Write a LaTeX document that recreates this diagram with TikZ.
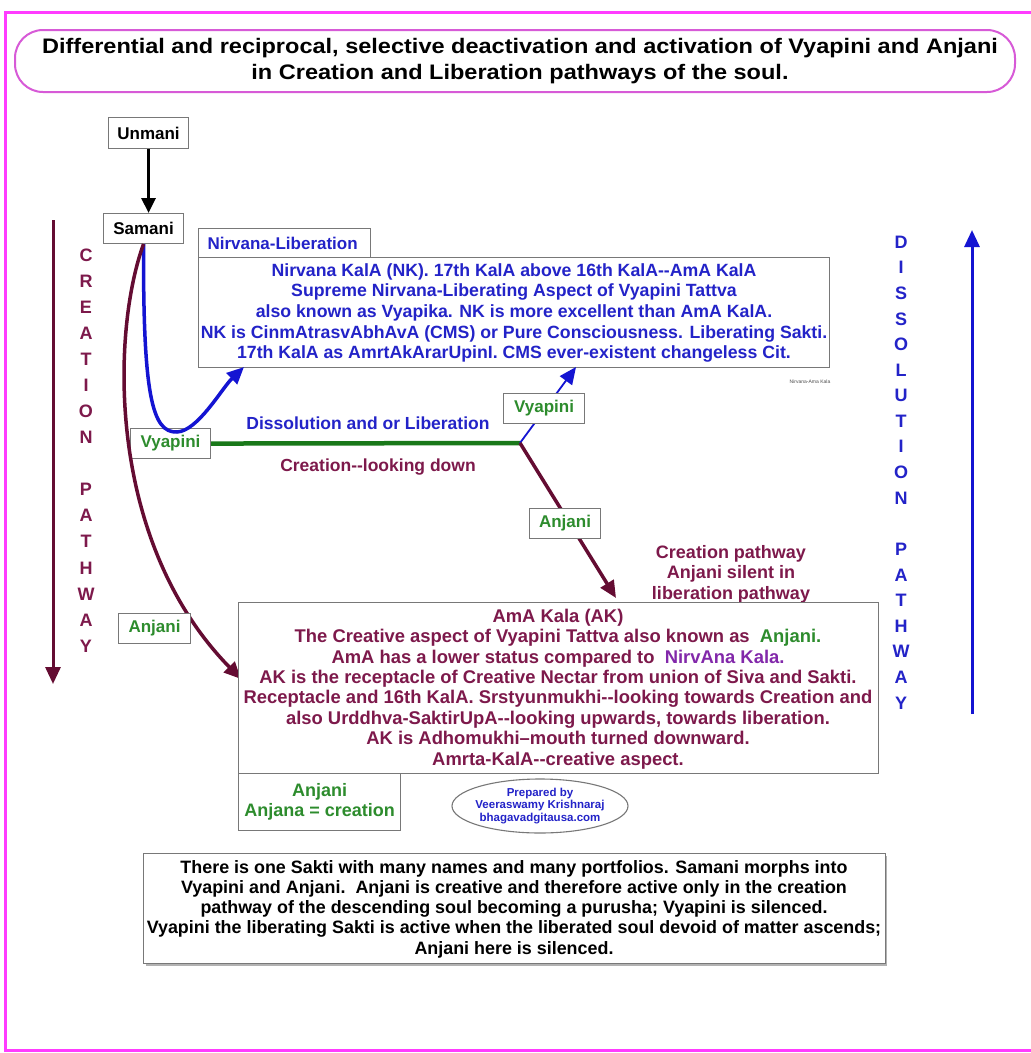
\documentclass[tikz,border=0pt]{standalone}
\usepackage{fontspec}
\setmainfont{Liberation Sans}
\newfontfamily\titlefont[FakeStretch=1.12]{Liberation Sans}
\usetikzlibrary{arrows.meta,shapes.geometric}
\definecolor{mag}{RGB}{255,60,255}
\definecolor{titlemag}{RGB}{215,90,215}
\definecolor{maroon}{RGB}{125,25,75}
\definecolor{maroonline}{RGB}{100,12,50}
\definecolor{grn}{RGB}{45,140,45}
\definecolor{grnline}{RGB}{25,120,25}
\definecolor{blu}{RGB}{35,35,200}
\definecolor{bluline}{RGB}{20,20,210}
\definecolor{purp}{RGB}{130,40,170}
\definecolor{boxgray}{RGB}{120,120,120}
\begin{document}
\begin{tikzpicture}[x=1pt,y=-1pt,
  box/.style={draw=boxgray, line width=1.1pt, fill=white, inner sep=0pt, anchor=north west},
  lbl/.style={font=\fontsize{17}{19}\selectfont\bfseries},
  vlet/.style={font=\fontsize{18}{20}\selectfont\bfseries, inner sep=0pt},
  bigtip/.style={-{Triangle[length=17pt,width=15pt]}},
]
\useasboundingbox (0,0) rectangle (1031,1053);
\clip (0,0) rectangle (1031,1053);
\fill[white] (0,0) rectangle (1031,1053);
\draw[mag, line width=3pt] (5,12) rectangle (1045,1050);

% title
\node[draw=titlemag, line width=2pt, rounded corners=28pt, minimum width=1000pt, minimum height=62pt, inner sep=0pt] (title) at (515,61) {};
\node[align=center, font=\titlefont\fontsize{21}{26}\selectfont\bfseries] (titlet) at (520,61)
  {Differential and reciprocal, selective deactivation and activation of Vyapini and Anjani\\
   in Creation and Liberation pathways of the soul.};

% Unmani / Samani
\node[box, minimum width=80pt, minimum height=31pt] (unmani) at (108,117) {};
\node[lbl] (unmanit) at (unmani.center) {Unmani};
\node[box, minimum width=80pt, minimum height=30pt] (samani) at (103,213) {};
\node[lbl] (samanit) at (samani.center) {Samani};
\draw[black, line width=3pt, -{Triangle[length=15pt,width=14pt]}] (unmani.south) -- (unmani.south |- samani.north);

% Nirvana boxes
\node[box, minimum width=172pt, minimum height=30pt] (nirvtab) at (198,228) {};
\node[lbl, text=blu, anchor=west] (nirvtabt) at (204,243) {Nirvana-Liberation};
\node[box, minimum width=631pt, minimum height=110pt] (nk) at (198,257) {};
\node[align=center, text=blu, font=\fontsize{17.7}{20.7}\selectfont\bfseries] (nkt) at (514,313)
  {Nirvana KalA (NK). 17th KalA above 16th KalA-{}-AmA KalA\\
   Supreme Nirvana-Liberating Aspect of Vyapini Tattva\\
   also known as Vyapika. NK is more excellent than AmA KalA.\\
   NK is CinmAtrasvAbhAvA (CMS) or Pure Consciousness. Liberating Sakti.\\
   17th KalA as AmrtAkArarUpinI. CMS ever-existent changeless Cit.};
\node[font=\fontsize{5}{6}\selectfont, text=black!70] (nasmall) at (810,382) {Nirvana-Ama Kala};

% vertical letters
\foreach \l [count=\i] in {C,R,E,A,T,I,O,N,,P,A,T,H,W,A,Y}
  \node[vlet, text=maroon] (cr\i) at (86,{255+(\i-1)*26.07}) {\l};
\foreach \l [count=\i] in {D,I,S,S,O,L,U,T,I,O,N,,P,A,T,H,W,A,Y}
  \node[vlet, text=blu] (ds\i) at (901,{242+(\i-1)*25.6}) {\l};

% side arrows
\coordinate (crtop) at (53,220);
\coordinate (crbot) at (53,684);
\draw[maroonline, line width=3pt, -{Triangle[length=17pt,width=15pt]}] (crtop) -- (crbot);
\coordinate (dsbot) at (972,714);
\coordinate (dstop) at (972,230);
\draw[bluline, line width=3pt, -{Triangle[length=17pt,width=15pt]}] (dsbot) -- (dstop);

% Vyapini left, green line
\node[box, minimum width=80pt, minimum height=30pt] (vyl) at (130,428) {};
\node[lbl, text=grn] (vylt) at (vyl.center) {Vyapini};
\coordinate (junc) at (520,443);
\draw[grnline, line width=4.5pt] (vyl.east) -- (junc);
\node[text=blu, font=\fontsize{17.5}{19}\selectfont\bfseries] (dissl) at (368,423) {Dissolution and or Liberation};
\node[text=maroon, font=\fontsize{17.5}{19}\selectfont\bfseries] (creatl) at (378,467) {Creation-{}-looking down};

% curves from Samani
\coordinate (nkin1) at (244,367);
\coordinate (akin) at (241,679);
\draw[bluline, line width=3.5pt, bigtip] (samani.south) .. controls (143,395) and (152,433) .. (177,432)
   .. controls (198,431) and (222,388) .. (nkin1);
\draw[maroonline, line width=3.5pt, bigtip] (samani.south) .. controls (112,330) and (105,540) .. (akin);

% junction lines
\coordinate (nkin2) at (576,367);
\coordinate (akin2) at (616,598);
\draw[bluline, line width=1.8pt, bigtip] (junc) -- (nkin2);
\draw[maroonline, line width=3.5pt, bigtip] (junc) -- (akin2);
\node[box, minimum width=81pt, minimum height=30pt] (vyr) at (503,393) {};
\node[lbl, text=grn] (vyrt) at (vyr.center) {Vyapini};
\node[box, minimum width=71pt, minimum height=30pt] (anjr) at (529,508) {};
\node[lbl, text=grn] (anjrt) at (anjr.center) {Anjani};

% creation pathway note
\node[align=center, text=maroon, font=\fontsize{18}{20.5}\selectfont\bfseries] (cpnote) at (731,574)
  {Creation pathway\\ Anjani silent in\\ liberation pathway};

% Anjani left
\node[box, minimum width=72pt, minimum height=30pt] (anjl) at (118,613) {};
\node[lbl, text=grn] (anjlt) at (anjl.center) {Anjani};

% AK box
\node[box, minimum width=640pt, minimum height=171pt] (ak) at (238,602) {};
\node[align=center, text=maroon, font=\fontsize{18.4}{20.43}\selectfont\bfseries] (akt) at (558,689)
  {AmA Kala (AK)\\
   The Creative aspect of Vyapini Tattva also known as\ \ \textcolor{grn}{Anjani.}\\
   AmA has a lower status compared to\ \ \textcolor{purp}{NirvAna Kala.}\\
   AK is the receptacle of Creative Nectar from union of Siva and Sakti.\\
   Receptacle and 16th KalA. Srstyunmukhi-{}-looking towards Creation and\\
   also Urddhva-SaktirUpA-{}-looking upwards, towards liberation.\\
   AK is Adhomukhi--mouth turned downward.\\
   Amrta-KalA-{}-creative aspect.};

% Anjana box
\node[box, minimum width=162pt, minimum height=57pt] (anjana) at (238,773) {};
\node[align=center, text=grn, font=\fontsize{18}{20}\selectfont\bfseries] (anjanat) at (anjana.center)
  {Anjani\\ Anjana = creation};

% prepared by
\node[draw=boxgray, line width=1.1pt, ellipse, minimum width=176pt, minimum height=54pt, inner sep=0pt] (prep) at (540,806) {};
\node[align=center, text=blu, font=\fontsize{11.5}{12.5}\selectfont\bfseries] (prept) at (prep.center)
  {Prepared by\\ Veeraswamy Krishnaraj\\ bhagavadgitausa.com};

% bottom box
\fill[black!30] (146,856) rectangle (887,966);
\node[box, minimum width=742pt, minimum height=110pt] (bottom) at (143,853) {};
\node[align=center, font=\fontsize{17.9}{20.25}\selectfont\bfseries] (bottomt) at (514,909)
  {There is one Sakti with many names and many portfolios. Samani morphs into\\
   Vyapini and Anjani.\ \ Anjani is creative and therefore active only in the creation\\
   pathway of the descending soul becoming a purusha; Vyapini is silenced.\\
   Vyapini the liberating Sakti is active when the liberated soul devoid of matter ascends;\\
   Anjani here is silenced.};
\end{tikzpicture}
\end{document}
